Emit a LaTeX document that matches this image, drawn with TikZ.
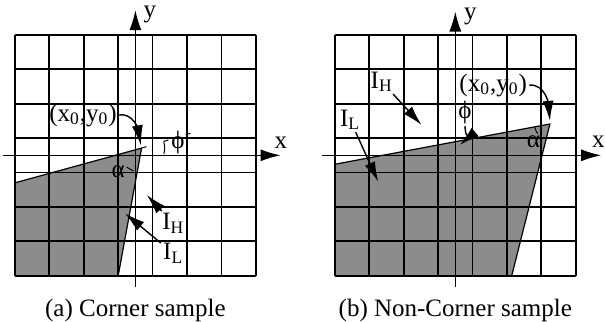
\documentclass[tikz,border=0pt]{standalone}
\usepackage{fontspec}
\setmainfont{Liberation Serif}
\usetikzlibrary{arrows.meta}

\begin{document}
\begin{tikzpicture}
[
    x=17.2pt, y=17.2pt,
    font=\fontsize{12.5}{15}\selectfont,
    gridline/.style={line width=0.9pt, step=1},
    axisline/.style={line width=0.7pt, -{Latex[length=10pt,width=6pt]}},
    pointer/.style={line width=0.7pt, -{Latex[length=10pt,width=5.5pt]}},
    sampleshade/.style={fill=black!45},
    sampleedge/.style={line width=0.6pt},
    angleline/.style={line width=0.5pt},
    txt/.style={inner sep=1pt}
]
    \useasboundingbox (-0.436,-1.317) rectangle (17.151,8.015);

    \begin{scope}
        \fill[sampleshade] (0,0) -- (0,2.7) -- (3.68,3.71) -- (3.0,0) -- cycle;
        \draw[gridline] (0,0) grid (7,7);
        \coordinate (cornerA) at (3.68,3.71);
        \draw[sampleedge] (0,2.7) -- (cornerA) -- (3.0,0);

        \coordinate (xfromA) at (-0.34,3.5);
        \coordinate (xtoA) at (7.72,3.5);
        \coordinate (yfromA) at (3.5,-0.32);
        \coordinate (ytoA) at (3.5,7.72);
        \draw[axisline] (xfromA) -- (xtoA);
        \draw[axisline] (yfromA) -- (ytoA);
        \node[txt] (xA) at (7.73,3.86) {x};
        \node[txt] (yA) at (3.92,7.58) {y};

        \node[txt] (xyA) at (1.98,4.67) {(x\textsubscript{0},y\textsubscript{0})};
        \coordinate (xytipA) at (3.66,3.79);
        \draw[pointer] (xyA.east) to[out=10,in=100] (xytipA);

        \coordinate (phiendA) at (5.3,4.2);
        \draw[angleline, dash pattern=on 2.5pt off 9pt] (cornerA) -- (phiendA);
        \draw[angleline] (cornerA) ++(15:0.67) arc[start angle=15, end angle=-15, radius=0.67];
        \node[txt] (phiA) at (4.74,3.86) {ϕ};

        \node[txt] (alA) at (3.0,3.02) {α};
        \draw[angleline] (cornerA) ++(232:0.7) arc[start angle=232, end angle=250, radius=0.7];

        \node[txt] (ihA) at (4.6,1.52) {I\textsubscript{H}};
        \coordinate (ihtipA) at (3.83,2.35);
        \draw[pointer] (ihA) -- (ihtipA);
        \node[txt] (ilA) at (4.6,0.65) {I\textsubscript{L}};
        \coordinate (iltipA) at (3.2,1.81);
        \draw[pointer] (ilA) -- (iltipA);

        \node[anchor=base] (capA) at (3.5,-1.2) {(a) Corner sample};
    \end{scope}

    \begin{scope}[shift={(9.3,0)}]
        \fill[sampleshade] (0,0) -- (0,3.24) -- (6.25,4.41) -- (5.14,0) -- cycle;
        \draw[gridline] (0,0) grid (7,7);
        \coordinate (cornerB) at (6.25,4.41);
        \draw[sampleedge] (0,3.24) -- (cornerB) -- (5.14,0);

        \coordinate (xfromB) at (-0.38,3.5);
        \coordinate (xtoB) at (7.74,3.5);
        \coordinate (yfromB) at (3.5,-0.32);
        \coordinate (ytoB) at (3.5,7.68);
        \draw[axisline] (xfromB) -- (xtoB);
        \draw[axisline] (yfromB) -- (ytoB);
        \node[txt] (xB) at (7.66,3.89) {x};
        \node[txt] (yB) at (3.94,7.53) {y};

        \node[txt] (xyB) at (4.6,5.54) {(x\textsubscript{0},y\textsubscript{0})};
        \coordinate (xytipB) at (6.25,4.5);
        \draw[pointer] (xyB.east) to[out=5,in=95] (xytipB);

        \node[txt] (phiB) at (3.78,4.75) {ϕ};
        \coordinate (phitipB) at (3.63,3.8);
        \draw[pointer] (phiB.south) to[out=-85,in=40] (phitipB);

        \node[txt] (alB) at (5.77,3.9) {α};
        \draw[angleline] (cornerB) ++(193:0.45) arc[start angle=193, end angle=218, radius=0.45];

        \node[txt] (ihB) at (1.36,5.64) {I\textsubscript{H}};
        \coordinate (ihtipB) at (2.52,4.38);
        \draw[pointer] (ihB) -- (ihtipB);
        \node[txt] (ilB) at (0.44,4.53) {I\textsubscript{L}};
        \coordinate (iltipB) at (1.26,2.73);
        \draw[pointer] (ilB) -- (iltipB);

        \node[anchor=base] (capB) at (3.5,-1.2) {(b) Non-Corner sample};
    \end{scope}
\end{tikzpicture}
\end{document}
